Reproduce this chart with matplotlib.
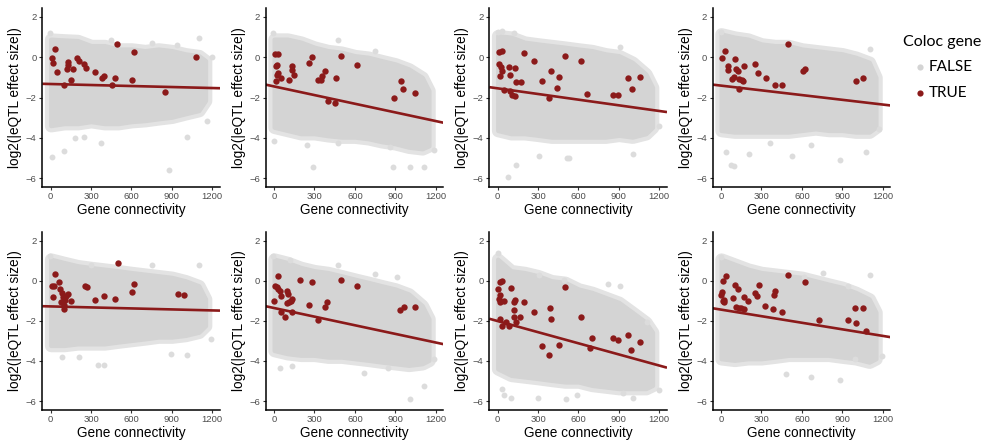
import numpy as np
import matplotlib
matplotlib.use("Agg")
import matplotlib.pyplot as plt

plt.rcParams["font.family"] = ["Liberation Sans", "DejaVu Sans"]

# ---------------------------------------------------------------------------
# Data
# ---------------------------------------------------------------------------
X_TICKS = [0, 300, 600, 900, 1200]
Y_TICKS = [-6, -4, -2, 0, 2]
X_LIM = (-62, 1257)
Y_LIM = (-6.43, 2.43)

# Background genes (Coloc gene = FALSE): outline of the dense point cloud,
# sampled along gene connectivity, one row per panel.
CLOUD_X = [0, 100, 200, 300, 400, 500, 600, 700, 800, 900, 1000, 1100, 1150]
CLOUD_TOP = [
    [0.9, 0.86, 0.83, 0.58, 0.58, 0.41, 0.41, 0.33, 0.41, 0.33, 0.17, 0.08, -0.17],
    [0.9, 0.9, 0.75, 0.5, 0.33, 0.25, 0.08, 0.0, -0.17, -0.33, -0.58, -1.0, -1.66],
    [1.07, 1.0, 0.75, 0.66, 0.58, 0.5, 0.41, 0.33, 0.17, 0.08, -0.25, -0.83, -1.5],
    [1.16, 1.0, 0.9, 0.66, 0.58, 0.58, 0.41, 0.33, 0.25, 0.17, 0.0, -0.25, -1.0],
    [1.08, 0.91, 0.75, 0.66, 0.58, 0.5, 0.41, 0.33, 0.25, 0.17, 0.0, -0.25, -0.91],
    [1.08, 0.91, 0.66, 0.5, 0.41, 0.25, 0.08, -0.08, -0.25, -0.41, -0.66, -1.24, -1.9],
    [1.08, 0.5, 0.41, 0.25, 0.0, -0.08, -0.41, -0.58, -0.83, -1.08, -1.57, -2.07, -2.57],
    [1.08, 0.83, 0.58, 0.41, 0.33, 0.25, 0.17, 0.0, -0.17, -0.33, -0.58, -0.91, -1.57],
]
CLOUD_BOTTOM = [
    [-3.4, -3.3, -3.3, -3.2, -3.3, -3.3, -3.2, -3.15, -3.06, -2.98, -2.81, -2.65, -2.15],
    [-3.48, -3.64, -3.8, -3.8, -3.9, -3.97, -3.97, -4.05, -4.2, -4.3, -4.47, -4.55, -4.4],
    [-3.64, -3.8, -3.8, -3.88, -3.97, -3.97, -3.97, -3.97, -3.97, -3.88, -3.97, -3.8, -3.48],
    [-3.64, -3.72, -3.72, -3.72, -3.72, -3.72, -3.64, -3.56, -3.64, -3.64, -3.72, -3.72, -3.48],
    [-3.23, -3.23, -3.15, -3.15, -3.15, -3.06, -2.98, -2.9, -2.81, -2.81, -2.73, -2.57, -2.24],
    [-3.48, -3.64, -3.72, -3.72, -3.81, -3.81, -3.89, -3.97, -4.06, -4.14, -4.22, -4.14, -3.97],
    [-4.39, -4.72, -4.8, -4.88, -4.97, -5.05, -5.05, -5.22, -5.3, -5.38, -5.38, -5.38, -5.22],
    [-3.89, -3.97, -3.89, -3.89, -3.81, -3.72, -3.72, -3.72, -3.72, -3.81, -3.89, -4.06, -3.89],
]

# Background genes lying outside the dense cloud
OUTLIER_X = [
    [7, 99, 881, 1015, 376, -5, 1104, 181, 248, 446, 752, 941, 1158, 1200],
    [-5, 291, 884, 1012, 1114, 242, 477, 1188, 472, 748, 0, 857],
    [74, 138, 309, 514, 533, 1002, 2, 32, 119, 909, 1200],
    [74, 99, 37, 210, 530, 886, 671, 1077, 0, 1104, 1171, 366],
    [-5, 1101, 750, 300, 354, 396, 1015, 891, 1188, 210, 82],
    [-5, 1012, 1111, 669, 847, 44, 131, 1188, 477, 753, 914, 119],
    [0, 32, 49, 99, 297, 506, 588, 928, 1002, 1200, 489, 304, 909, 822, 1106],
    [886, 671, 483, 993, 1195, 0, 1104, 614, 757, 941],
]
OUTLIER_Y = [
    [-4.97, -4.64, -5.58, -3.97, -4.27, 1.21, 0.96, -4.0, -3.97, 0.88, 0.7, 0.63, -3.15, 0.03],
    [1.2, -5.46, -5.46, -5.46, -5.43, -4.34, -4.27, -4.59, 0.86, 0.3, -4.14, -4.47],
    [-5.96, -5.33, -4.9, -5.02, -5.02, -4.8, 1.24, 1.29, 1.21, 0.53, -3.44],
    [-5.33, -5.38, -4.69, -4.8, -4.92, -5.08, -4.35, -4.72, 1.24, 0.41, -3.56, -4.27],
    [1.24, 0.79, 0.79, 0.79, -4.22, -4.19, -3.72, -3.64, -2.9, -3.81, -3.81],
    [1.21, -5.88, -5.25, -4.6, -4.34, -4.34, -4.26, -3.89, 0.78, 0.33, 0.17, 1.04],
    [1.37, -5.38, -5.68, -5.85, -5.85, -5.88, -5.71, -5.58, -5.85, -5.46, 0.03, 0.28, -0.25, -0.16, -2.04],
    [-4.97, -4.8, -4.67, -3.89, -3.76, 1.16, 0.3, 0.21, 0.41, -0.25],
]

# Colocalised genes (Coloc gene = TRUE)
COLOC_X = [
    [7, 20, 32, 50, 101, 126, 126, 124, 151, 163, 193, 210, 250, 262, 329, 384, 399,
     453, 478, 495, 606, 619, 851, 1077],
    [7, 32, 12, 22, 12, 20, 32, 49, 114, 131, 131, 151, 259, 279, 378, 328, 346, 353,
     398, 452, 457, 496, 617, 889, 941, 960, 1049],
    [7, 32, 7, 25, 32, 20, 49, 81, 94, 126, 94, 106, 131, 138, 173, 193, 267, 329, 384,
     396, 441, 458, 502, 621, 663, 854, 894, 965, 998, 1054],
    [10, 32, 50, 50, 82, 94, 106, 111, 126, 131, 136, 156, 168, 163, 255, 272, 332, 399,
     453, 498, 609, 621, 998, 1054],
    [7, 25, 32, 20, 64, 69, 82, 74, 89, 99, 101, 106, 114, 131, 151, 255, 267, 329, 396,
     478, 498, 606, 619, 943, 993],
    [32, 2, 7, 20, 32, 44, 49, 49, 81, 99, 106, 94, 111, 131, 123, 131, 193, 262, 279,
     328, 378, 395, 496, 617, 938, 963, 1049],
    [2, 15, 32, 7, 20, 20, 44, 15, 32, 62, 82, 101, 119, 131, 124, 119, 136, 168, 193,
     267, 329, 386, 396, 384, 453, 498, 621, 683, 700, 854, 894, 965, 993, 1054],
    [12, 37, 7, 2, 20, 20, 15, 87, 106, 114, 126, 131, 151, 168, 173, 198, 255, 267, 280,
     329, 386, 396, 399, 453, 498, 621, 725, 943, 993, 1002, 1054, 1079],
]
COLOC_Y = [
    [-0.05, -0.28, 0.41, -0.71, -1.36, -0.22, -0.38, -0.58, -1.13, -0.6, -0.03, -0.2,
     -0.33, -0.55, -0.75, -1.03, -0.94, -1.36, -1.03, 0.68, -1.11, 0.28, -1.74, 0.03],
    [0.15, 0.17, -0.43, -0.38, -1.16, -0.86, -0.79, -1.03, -1.11, -0.43, -0.63, -0.86,
     -0.3, 0.0, -0.66, -1.11, -1.11, -0.93, -2.19, -2.28, -1.03, 0.08, -0.41, -2.04,
     -1.19, -1.57, -1.8],
    [0.25, 0.33, -0.33, -0.5, -0.66, -0.91, -1.62, -0.5, -0.86, -0.53, -1.69, -1.9, -1.95,
     -1.24, -1.21, 0.22, -0.17, -1.19, -2.02, -0.66, -1.54, -0.99, 0.08, -0.17, -1.82,
     -1.87, -1.87, -1.04, -1.57, -0.99],
    [-0.02, 0.3, -0.43, -0.61, -1.09, -0.99, -0.08, -0.6, -0.7, -1.09, -1.57, -1.11, -0.43,
     -1.16, -0.36, -0.79, -1.03, -1.37, -1.36, 0.66, -0.66, -0.58, -1.19, -1.01],
    [-0.28, -0.25, 0.33, -0.83, -0.05, -0.41, -0.61, -1.04, -0.83, -1.21, -1.41, -0.94,
     -0.75, -0.68, -1.03, -0.28, -0.33, -0.94, -0.75, -0.91, 0.86, -0.55, -0.17, -0.66,
     -0.71],
    [0.25, -1.03, -0.25, -0.33, -0.41, -0.5, -0.78, -1.57, -1.82, -0.5, -0.66, -1.13,
     -1.08, -0.91, -1.01, -1.54, 0.05, -1.21, -0.05, -1.95, -1.29, -1.08, 0.05, -0.25,
     -1.46, -1.32, -1.32],
    [-0.41, -0.08, -0.03, -0.91, -0.71, -1.08, -0.99, -1.9, -2.27, -2.07, -2.24, -0.36,
     -1.08, -0.94, -1.44, -1.82, -2.07, -1.82, -1.08, -1.54, -3.23, -1.37, -1.9, -3.69,
     -3.2, -0.3, -1.82, -3.36, -2.86, -2.86, -2.93, -2.73, -3.43, -3.06],
    [0.0, 0.25, -0.55, -0.71, -0.94, -1.08, -0.99, -0.88, -0.2, -1.32, -0.41, -1.37, -1.37,
     -0.83, -1.41, -1.03, -0.61, -0.75, -0.22, -1.27, -1.41, -0.71, -0.53, -1.57, 0.3,
     -0.08, -1.94, -1.94, -1.37, -2.1, -1.37, -2.52],
]

# Linear fit of effect size on connectivity, given by its value at 0 and 1200
FIT_AT_0 = [-1.33, -1.45, -1.545, -1.41, -1.28, -1.36, -2.01, -1.44]
FIT_AT_1200 = [-1.53, -3.17, -2.67, -2.35, -1.48, -3.08, -4.23, -2.75]

# ---------------------------------------------------------------------------
# Style
# ---------------------------------------------------------------------------
GREY = "#D4D4D4"
GREY_SPARSE = "#DCDCDC"
GREY_HALO = "#E3E3E3"
RED = "#8B1A1A"
TICK_GREY = "#4D4D4D"

W, H = 986, 443
fig = plt.figure(figsize=(W / 100, H / 100), dpi=100)

col_left = [42.3, 265.7, 489.3, 712.7]
row_span = [(8.3, 186.7), (232.0, 409.7)]
ax_width = 177.7

for i in range(8):
    r, c = divmod(i, 4)
    top_px, bot_px = row_span[r]
    ax = fig.add_axes([col_left[c] / W, 1 - bot_px / H, ax_width / W,
                       (bot_px - top_px) / H])

    # background gene cloud: a light fringe of sparse points around the dense core
    halo = ax.fill_between(CLOUD_X, CLOUD_BOTTOM[i], CLOUD_TOP[i],
                           facecolor=GREY_HALO, edgecolor=GREY_HALO,
                           linewidth=9, zorder=0.5)
    halo.set_joinstyle("round")
    poly = ax.fill_between(CLOUD_X, CLOUD_BOTTOM[i], CLOUD_TOP[i],
                           facecolor=GREY, edgecolor=GREY, linewidth=3, zorder=1)
    poly.set_joinstyle("round")
    ax.scatter(OUTLIER_X[i], OUTLIER_Y[i], s=18, color=GREY_SPARSE,
               linewidths=0, zorder=1)

    # regression line across the full axis range
    slope = (FIT_AT_1200[i] - FIT_AT_0[i]) / 1200.0
    xs = np.array(X_LIM, dtype=float)
    ax.plot(xs, FIT_AT_0[i] + slope * xs, color=RED, linewidth=1.9, zorder=2,
            solid_capstyle="butt")

    # colocalised genes
    ax.scatter(COLOC_X[i], COLOC_Y[i], s=21, color=RED, linewidths=0, zorder=3)

    ax.set_xlim(*X_LIM)
    ax.set_ylim(*Y_LIM)
    ax.set_xticks(X_TICKS)
    ax.set_yticks(Y_TICKS)
    ax.tick_params(axis="both", colors="#333333", labelcolor=TICK_GREY,
                   labelsize=6.8, length=2.5, width=0.8, pad=1.5)
    for side in ("top", "right"):
        ax.spines[side].set_visible(False)
    for side in ("left", "bottom"):
        ax.spines[side].set_linewidth(1.1)
        ax.spines[side].set_color("black")
    ax.set_xlabel("Gene connectivity", fontsize=9.8, labelpad=1.5)
    ax.set_ylabel("log2(|eQTL effect size|)", fontsize=9.8, labelpad=2.5)
    ax.set_facecolor("none")

# legend
leg = fig.add_axes([0, 0, 1, 1])
leg.set_xlim(0, W)
leg.set_ylim(H, 0)
leg.axis("off")
leg_font = ["Lato", "DejaVu Sans"]
leg.text(903, 42, "Coloc gene", fontsize=11.5, family=leg_font, va="center",
         ha="left")
leg.scatter([920], [67], s=20, color=GREY, linewidths=0)
leg.text(929, 67, "FALSE", fontsize=11, family=leg_font, va="center", ha="left")
leg.scatter([920], [93], s=20, color=RED, linewidths=0)
leg.text(929, 93, "TRUE", fontsize=11, family=leg_font, va="center", ha="left")

fig.savefig("out.png", dpi=100)
